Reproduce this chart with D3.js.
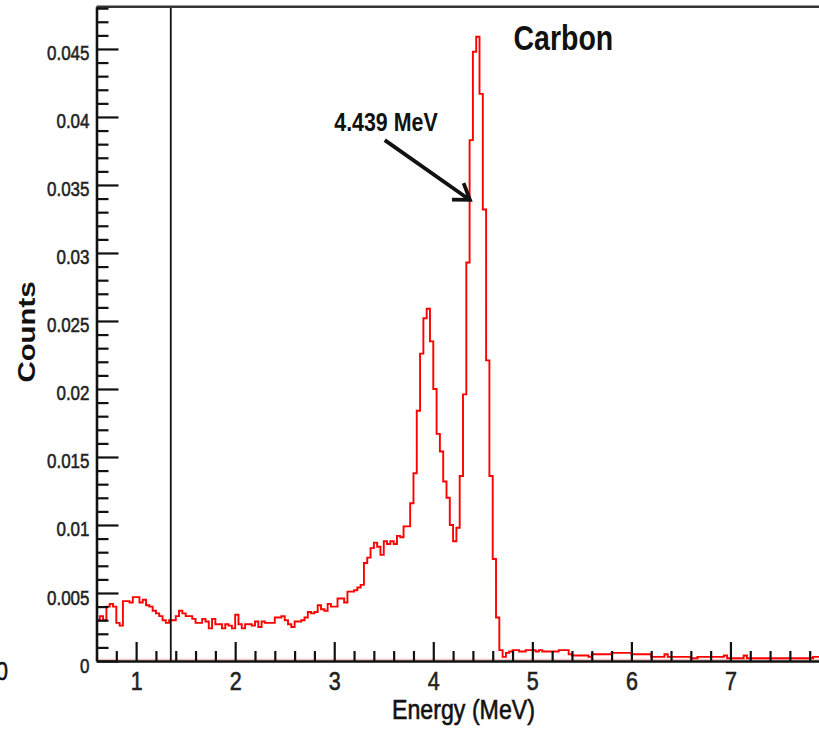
<!DOCTYPE html>
<html>
<head>
<meta charset="utf-8">
<script src="https://cdn.jsdelivr.net/npm/d3@7"></script>
<style>
  html, body { margin: 0; padding: 0; background: #fff; }
  svg { display: block; }
  text { font-family: "Liberation Sans", Arial, Helvetica, sans-serif; }
</style>
</head>
<body>
<svg id="chart" width="819" height="731"></svg>
<script>
// Carbon gamma spectrum, 1/30 MeV bins from 0.6 MeV
const binStart = 0.6;
const binWidth = 1 / 30;
const counts = [
  0.0030, 0.0033, 0.0030, 0.0040, 0.0042, 0.0040, 0.0028, 0.0026, 0.0044, 0.0044,
  0.0043, 0.0047, 0.0047, 0.0043, 0.0045, 0.0041, 0.0040, 0.0037, 0.0035, 0.0033,
  0.0030, 0.0028, 0.0030, 0.0030, 0.0033, 0.0037, 0.0035, 0.0033, 0.0033, 0.0031,
  0.0028, 0.0028, 0.0031, 0.0029, 0.0024, 0.0031, 0.0027, 0.0027, 0.0024, 0.0027,
  0.0026, 0.0024, 0.0034, 0.0027, 0.0024, 0.0027, 0.0027, 0.0026, 0.0029, 0.0025,
  0.0029, 0.0028, 0.0028, 0.0028, 0.0032, 0.0032, 0.0033, 0.0030, 0.0027, 0.0025,
  0.0029, 0.0029, 0.0030, 0.0032, 0.0036, 0.0035, 0.0036, 0.0041, 0.0038, 0.0037,
  0.0042, 0.0040, 0.0040, 0.0046, 0.0046, 0.0043, 0.0051, 0.0051, 0.0052, 0.0054,
  0.0056, 0.0072, 0.0076, 0.0083, 0.0087, 0.0084, 0.0078, 0.0088, 0.0086, 0.0088,
  0.0086, 0.0092, 0.0091, 0.0099, 0.0099, 0.0116, 0.0138, 0.0184, 0.0226, 0.0252,
  0.0259, 0.0235, 0.0200, 0.0167, 0.0154, 0.0132, 0.0120, 0.0100, 0.0088, 0.0098,
  0.0136, 0.0196, 0.0293, 0.0383, 0.0448, 0.0459, 0.0417, 0.0332, 0.0221, 0.0136,
  0.0075, 0.0032, 0.0008, 0.0003, 0.0006, 0.0007, 0.0008, 0.0008, 0.0007, 0.0007,
  0.0008, 0.0008, 0.0008, 0.0007, 0.0008, 0.0007, 0.0007, 0.0007, 0.0007, 0.0007,
  0.0008, 0.0008, 0.0008, 0.0005, 0.0004, 0.0004, 0.0004, 0.0004, 0.0004, 0.0003,
  0.0005, 0.0005, 0.0005, 0.0005, 0.0005, 0.0005, 0.0006, 0.0006, 0.0006, 0.0006,
  0.0006, 0.0006, 0.0005, 0.0005, 0.0005, 0.0005, 0.0005, 0.0005, 0.0003, 0.0003,
  0.0003, 0.0003, 0.0005, 0.0003, 0.0003, 0.0003, 0.0003, 0.0003, 0.0003, 0.0003,
  0.0002, 0.0002, 0.0003, 0.0003, 0.0003, 0.0003, 0.0003, 0.0003, 0.0003, 0.0003,
  0.0004, 0.0002, 0.0002, 0.0002, 0.0002, 0.0002, 0.0004, 0.0002, 0.0002, 0.0002,
  0.0002, 0.0002, 0.0002, 0.0002, 0.0002, 0.0002, 0.0002, 0.0002, 0.0002, 0.0002,
  0.0002, 0.0002, 0.0002, 0.0002, 0.0002, 0.0002, 0.0002, 0.0003, 0.0003, 0.0003
];

const xTicks = [1, 2, 3, 4, 5, 6, 7];
const xTickLabels = ["1", "2", "3", "4", "5", "6", "7"];
const yTicks = [0, 0.005, 0.01, 0.015, 0.02, 0.025, 0.03, 0.035, 0.04, 0.045];
const yTickLabels = ["0", "0.005", "0.01", "0.015", "0.02", "0.025", "0.03", "0.035", "0.04", "0.045"];

const thresholdEnergy = 1.35;          // vertical marker line
const peakText = "4.439 MeV";
const arrowFrom = [3.51, 0.0383];      // [MeV, counts]
const arrowTo = [4.37, 0.0339];
const peakTextAt = [3.0, 0.0390];
const titleText = "Carbon";
const titleAt = [4.81, 0.0449];

// the source image is stretched vertically, so text is too
const SY = 1.22;

const svg = d3.select('#chart');
const W = 819;

const x = d3.scaleLinear().domain([0.6, 8]).range([96.5, 829.5]);
const y = d3.scaleLinear().domain([0, 0.0481]).range([661, 6.8]);

// faint zero line under the axis
svg.append('line')
    .attr('x1', x(0.6)).attr('x2', W)
    .attr('y1', y(0) - 1.5).attr('y2', y(0) - 1.5)
    .attr('stroke', '#f6c4c4').attr('stroke-width', 1.5);

// Histogram outline
const pts = counts.map((c, i) => [binStart + i * binWidth, c]);
pts.push([binStart + counts.length * binWidth, counts[counts.length - 1]]);
const line = d3.line()
    .x(d => x(d[0])).y(d => y(d[1]))
    .curve(d3.curveStepAfter);

svg.append('path')
    .datum(pts)
    .attr('d', line)
    .attr('fill', 'none')
    .attr('stroke', '#ff0000')
    .attr('stroke-width', 1.9);

// threshold marker
svg.append('line')
    .attr('x1', x(thresholdEnergy)).attr('x2', x(thresholdEnergy))
    .attr('y1', y.range()[1]).attr('y2', y(0))
    .attr('stroke', '#111').attr('stroke-width', 1.8);

// top frame
svg.append('line')
    .attr('x1', x(0.6)).attr('x2', W)
    .attr('y1', y.range()[1]).attr('y2', y.range()[1])
    .attr('stroke', '#333').attr('stroke-width', 2.6);

// Axes — ticks point inward, ROOT style
const gyMinor = svg.append('g')
    .attr('transform', `translate(${x(0.6)},0)`)
    .call(d3.axisLeft(y)
        .tickValues(d3.range(1, 49).filter(i => i % 5 !== 0).map(i => i / 1000))
        .tickSize(-12).tickFormat(''));
gyMinor.select('.domain').remove();

const gy = svg.append('g')
    .attr('transform', `translate(${x(0.6)},0)`)
    .call(d3.axisLeft(y).tickValues(yTicks).tickSize(-22).tickSizeOuter(0)
        .tickFormat((d, i) => yTickLabels[i]));

const gxMinor = svg.append('g')
    .attr('transform', `translate(0,${y(0)})`)
    .call(d3.axisBottom(x)
        .tickValues(d3.range(4, 40).filter(i => i % 5 !== 0).map(i => i / 5))
        .tickSize(-10).tickFormat(''));
gxMinor.select('.domain').remove();

const gx = svg.append('g')
    .attr('transform', `translate(0,${y(0)})`)
    .call(d3.axisBottom(x).tickValues(xTicks).tickSize(-19).tickSizeOuter(0)
        .tickFormat((d, i) => xTickLabels[i]));

[gy, gx, gyMinor, gxMinor].forEach(g => {
    g.selectAll('.tick line').attr('stroke', '#111').attr('stroke-width', 2.2);
    g.select('.domain').attr('stroke', '#111').attr('stroke-width', 2.6);
});

// blurry source text reads heavier than a plain regular face
gy.selectAll('.tick text')
    .attr('x', -7).attr('dy', null).attr('y', 11 / SY)
    .attr('transform', `scale(1,${SY})`)
    .attr('font-size', 17).attr('fill', '#222')
    .attr('stroke', '#222').attr('stroke-width', 0.45);

gx.selectAll('.tick text')
    .attr('dy', null).attr('y', 29 / SY)
    .attr('transform', `scale(1,${SY})`)
    .attr('font-size', 21.5).attr('fill', '#222')
    .attr('stroke', '#222').attr('stroke-width', 0.5);

// helper: text stretched vertically like the source
function label(px, py, str, size, weight, anchor) {
    return svg.append('g')
        .attr('transform', `translate(${px},${py}) scale(1,${SY})`)
        .append('text')
        .attr('font-size', size)
        .attr('font-weight', weight)
        .attr('text-anchor', anchor)
        .attr('fill', '#111')
        .text(str);
}

label(463.5, 718.5, 'Energy (MeV)', 23.2, 'normal', 'middle')
    .attr('stroke', '#111').attr('stroke-width', 0.5);
label(x(titleAt[0]), y(titleAt[1]), titleText, 28.5, 'bold', 'start');
label(x(peakTextAt[0]), y(peakTextAt[1]), peakText, 21.4, 'bold', 'start');

// stray "0" from the neighbouring panel, cut by the left edge as in the source
label(2, 680, '0', 21.5, 'normal', 'middle')
    .attr('stroke', '#111').attr('stroke-width', 0.5);

// y title, rotated
svg.append('g')
    .attr('transform', `translate(35,332) rotate(-90) scale(1.25,1)`)
    .append('text')
    .attr('font-size', 23.5).attr('font-weight', 'bold')
    .attr('text-anchor', 'middle').attr('fill', '#111')
    .text('Counts');

// arrow to the 4.439 MeV peak
const ax0 = x(arrowFrom[0]), ay0 = y(arrowFrom[1]);
const ax1 = x(arrowTo[0]), ay1 = y(arrowTo[1]);
const ang = Math.atan2(ay1 - ay0, ax1 - ax0);
const head = 18, spread = 0.6;
const hx1 = ax1 - head * Math.cos(ang - spread), hy1 = ay1 - head * Math.sin(ang - spread);
const hx2 = ax1 - head * Math.cos(ang + spread), hy2 = ay1 - head * Math.sin(ang + spread);
svg.append('path')
    .attr('d', `M${ax0},${ay0}L${ax1},${ay1}M${hx1},${hy1}L${ax1},${ay1}L${hx2},${hy2}`)
    .attr('fill', 'none')
    .attr('stroke', '#111')
    .attr('stroke-width', 3.8)
    .attr('stroke-linejoin', 'miter');
</script>
</body>
</html>
